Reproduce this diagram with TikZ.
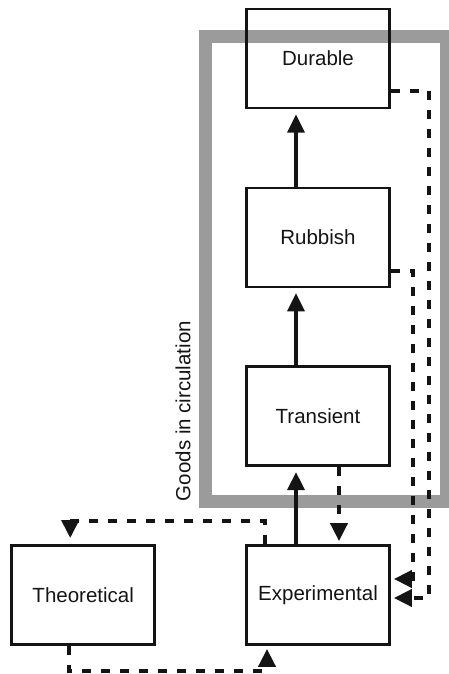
\documentclass[tikz,border=0pt]{standalone}
\usepackage{fontspec}
\setmainfont{Liberation Sans}
\usepackage{xcolor}
\definecolor{FrameGray}{RGB}{155,155,155}
\definecolor{InkBlack}{RGB}{20,20,20}
\usetikzlibrary{arrows.meta, positioning, calc, backgrounds}
\tikzset{
  % Plain box for one kind of good
  gbox/.style={
    rectangle, draw=InkBlack, line width=2.8pt,
    minimum width=143pt, minimum height=99pt,
    align=center, text=InkBlack,
    font=\fontsize{20.5}{24}\selectfont
  },
  % Grey frame round the goods in circulation
  circframe/.style={draw=FrameGray, line width=13pt},
  % Arrows
  arr/.style={-{Triangle[length=18pt,width=17pt]}, line width=3.2pt, InkBlack, shorten >=5pt},
  darr/.style={arr, line width=4pt, dash pattern=on 9pt off 10pt, shorten >=3pt},
}

\begin{document}
\begin{tikzpicture}[x=1pt, y=-1pt]
  \useasboundingbox (0,0) rectangle (449,674);

  %% Frame
  \begin{pgfonlayer}{background}
    \draw[circframe] (205,36.5) rectangle (446.5,501.5);
  \end{pgfonlayer}

  %% Boxes
  \node[gbox] (exp) at (318,595) {Experimental};
  \node[gbox, above=77pt of exp] (trans) {Transient};
  \node[gbox, above=77pt of trans] (rub) {Rubbish};
  \node[gbox, above=77pt of rub] (dur) {Durable};
  \node[gbox, left=89pt of exp] (theo) {Theoretical};

  %% Frame label
  \node[rotate=90, text=InkBlack, font=\fontsize{20.5}{24}\selectfont]
    (goods) at (183,411) {Goods in circulation};

  %% Ports on the box edges
  \coordinate (durout) at ($(dur.east)+(0,-32pt)$);
  \coordinate (rubout) at ($(rub.east)+(0,-34pt)$);
  \coordinate (durin) at ($(exp.east)+(0,-3pt)$);
  \coordinate (rubin) at ($(exp.east)+(0,16pt)$);

  %% Solid arrows
  \draw[arr] ($(exp.north)+(-22pt,0)$) -- ($(trans.south)+(-22pt,0)$);
  \draw[arr] ($(trans.north)+(-22pt,0)$) -- ($(rub.south)+(-22pt,0)$);
  \draw[arr] ($(rub.north)+(-22pt,0)$) -- ($(dur.south)+(-22pt,0)$);

  %% Dashed arrows
  \draw[darr] ($(trans.south)+(21pt,0)$) -- ($(exp.north)+(21pt,0)$);
  \draw[darr] (durout) -- ++(38pt,0) |- (durin);
  \draw[darr] (rubout) -- ++(22pt,0) |- (rubin);
  \draw[darr, shorten >=6pt] ($(exp.north)+(-53pt,0)$) -- ++(0,23pt)
    -| ($(theo.north)+(-13pt,0)$);
  \draw[darr] ($(theo.south)+(-14pt,0)$) -- ++(0,-25pt)
    -| ($(exp.south)+(-51pt,0)$);

\end{tikzpicture}
\end{document}
